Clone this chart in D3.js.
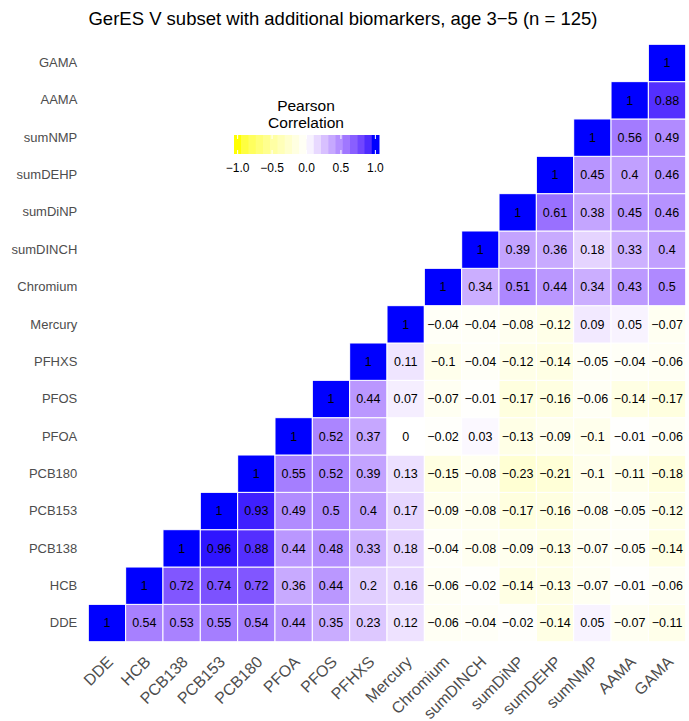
<!DOCTYPE html>
<html>
<head>
<meta charset="utf-8">
<script src="https://cdn.jsdelivr.net/npm/d3@7"></script>
<style>
  body { margin: 0; background: #fff; }
  svg { font-family: "Liberation Sans", Arial, Helvetica, sans-serif; }
</style>
</head>
<body>
<div id="okvir"></div>
<script>
// varijable (redoslijed osi)
const varijable = ["DDE", "HCB", "PCB138", "PCB153", "PCB180", "PFOA", "PFOS", "PFHXS",
  "Mercury", "Chromium", "sumDINCH", "sumDiNP", "sumDEHP", "sumNMP", "AAMA", "GAMA"];

// gornji trokut, svaki red pocinje na dijagonali
const rDDE      = [1, 0.54, 0.53, 0.55, 0.54, 0.44, 0.35, 0.23, 0.12, -0.06, -0.04, -0.02, -0.14, 0.05, -0.07, -0.11];
const rHCB      = [1, 0.72, 0.74, 0.72, 0.36, 0.44, 0.2, 0.16, -0.06, -0.02, -0.14, -0.13, -0.07, -0.01, -0.06];
const rPCB138   = [1, 0.96, 0.88, 0.44, 0.48, 0.33, 0.18, -0.04, -0.08, -0.09, -0.13, -0.07, -0.05, -0.14];
const rPCB153   = [1, 0.93, 0.49, 0.5, 0.4, 0.17, -0.09, -0.08, -0.17, -0.16, -0.08, -0.05, -0.12];
const rPCB180   = [1, 0.55, 0.52, 0.39, 0.13, -0.15, -0.08, -0.23, -0.21, -0.1, -0.11, -0.18];
const rPFOA     = [1, 0.52, 0.37, 0, -0.02, 0.03, -0.13, -0.09, -0.1, -0.01, -0.06];
const rPFOS     = [1, 0.44, 0.07, -0.07, -0.01, -0.17, -0.16, -0.06, -0.14, -0.17];
const rPFHXS    = [1, 0.11, -0.1, -0.04, -0.12, -0.14, -0.05, -0.04, -0.06];
const rMercury  = [1, -0.04, -0.04, -0.08, -0.12, 0.09, 0.05, -0.07];
const rChromium = [1, 0.34, 0.51, 0.44, 0.34, 0.43, 0.5];
const rSumDINCH = [1, 0.39, 0.36, 0.18, 0.33, 0.4];
const rSumDiNP  = [1, 0.61, 0.38, 0.45, 0.46];
const rSumDEHP  = [1, 0.45, 0.4, 0.46];
const rSumNMP   = [1, 0.56, 0.49];
const rAAMA     = [1, 0.88];
const rGAMA     = [1];

const redovi = [rDDE, rHCB, rPCB138, rPCB153, rPCB180, rPFOA, rPFOS, rPFHXS,
  rMercury, rChromium, rSumDINCH, rSumDiNP, rSumDEHP, rSumNMP, rAAMA, rGAMA];

const legendaTicks = [-1, -0.5, 0, 0.5, 1];
const naslov = "GerES V subset with additional biomarkers, age 3\u22125 (n = 125)";

// slazemo podatke za celije
const podatci = [];
redovi.forEach((red, i) => {
  red.forEach((v, k) => {
    podatci.push({ y: varijable[i], x: varijable[i + k], v: v });
  });
});

const dimenzije = {
  sirina: 689,
  visina: 721,
  lijevo: 88.3,
  desno: 685.7,
  gore: 44.3,
  dolje: 641.7
};

const okvir = d3.select("#okvir")
  .append("svg")
    .attr("width", dimenzije.sirina)
    .attr("height", dimenzije.visina);

const xSkala = d3.scaleBand()
  .domain(varijable)
  .range([dimenzije.lijevo, dimenzije.desno]);

const ySkala = d3.scaleBand()
  .domain(varijable.slice().reverse())
  .range([dimenzije.gore, dimenzije.dolje]);

const boja = d3.scaleLinear()
  .domain([-1, 0, 1])
  .range(["#ffff00", "#ffffff", "#0000ff"])
  .interpolate(d3.interpolateLab);

// celije
okvir.append("g")
  .selectAll("rect")
  .data(podatci)
  .join("rect")
    .attr("x", d => xSkala(d.x))
    .attr("y", d => ySkala(d.y))
    .attr("width", xSkala.bandwidth())
    .attr("height", ySkala.bandwidth())
    .attr("fill", d => boja(d.v))
    .attr("stroke", "#ffffff")
    .attr("stroke-width", 1);

const fmt = v => String(v).replace("-", "\u2212");

okvir.append("g")
  .selectAll("text")
  .data(podatci)
  .join("text")
    .attr("x", d => xSkala(d.x) + xSkala.bandwidth() / 2)
    .attr("y", d => ySkala(d.y) + ySkala.bandwidth() / 2)
    .attr("dy", "0.35em")
    .attr("text-anchor", "middle")
    .attr("font-size", "12.5px")
    .attr("fill", "#000")
    .text(d => fmt(d.v));

// osi
const yOs = okvir.append("g")
  .attr("transform", `translate(${dimenzije.lijevo},0)`)
  .call(d3.axisLeft(ySkala).tickSize(0).tickPadding(11));
yOs.select(".domain").remove();
yOs.selectAll("text")
  .attr("font-size", "13px")
  .attr("fill", "#4d4d4d");

const xOs = okvir.append("g")
  .attr("transform", `translate(0,${dimenzije.dolje})`)
  .call(d3.axisBottom(xSkala).tickSize(0));
xOs.select(".domain").remove();
xOs.selectAll("text")
  .attr("font-size", "16px")
  .attr("fill", "#4d4d4d")
  .attr("text-anchor", "end")
  .attr("x", 0)
  .attr("y", 0)
  .attr("dy", "0.72em")
  .attr("transform", "translate(-1,13) rotate(-45)");

// naslov
okvir.append("text")
  .attr("x", 343)
  .attr("y", 25)
  .attr("text-anchor", "middle")
  .attr("font-size", "18.5px")
  .attr("fill", "#000")
  .text(naslov);

// legenda
const leg = { x0: 234, x1: 379, y0: 135, h: 19, nbin: 20 };
const binW = (leg.x1 - leg.x0) / leg.nbin;
const binovi = d3.range(leg.nbin).map(i => -1 + 2 * i / (leg.nbin - 1));
const legSkala = d3.scaleLinear()
  .domain([-1, 1])
  .range([leg.x0 + binW / 2, leg.x1 - binW / 2]);

const legenda = okvir.append("g");

legenda.selectAll("rect")
  .data(binovi)
  .join("rect")
    .attr("x", (d, i) => leg.x0 + i * binW)
    .attr("y", leg.y0)
    .attr("width", binW + 0.5)
    .attr("height", leg.h)
    .attr("fill", d => boja(d));

legenda.selectAll("line.gore")
  .data(legendaTicks)
  .join("line")
    .attr("class", "gore")
    .attr("x1", d => legSkala(d)).attr("x2", d => legSkala(d))
    .attr("y1", leg.y0).attr("y2", leg.y0 + 4)
    .attr("stroke", "#fff").attr("stroke-width", 1);

legenda.selectAll("line.dolje")
  .data(legendaTicks)
  .join("line")
    .attr("class", "dolje")
    .attr("x1", d => legSkala(d)).attr("x2", d => legSkala(d))
    .attr("y1", leg.y0 + leg.h - 4).attr("y2", leg.y0 + leg.h)
    .attr("stroke", "#fff").attr("stroke-width", 1);

legenda.selectAll("text.tick")
  .data(legendaTicks)
  .join("text")
    .attr("class", "tick")
    .attr("x", d => legSkala(d))
    .attr("y", 172)
    .attr("text-anchor", "middle")
    .attr("font-size", "12px")
    .attr("fill", "#000")
    .text(d => d3.format(".1f")(d).replace("-", "\u2212"));

legenda.append("text")
  .attr("x", 306)
  .attr("y", 111)
  .attr("text-anchor", "middle")
  .attr("font-size", "15.5px")
  .text("Pearson");

legenda.append("text")
  .attr("x", 306)
  .attr("y", 128)
  .attr("text-anchor", "middle")
  .attr("font-size", "15.5px")
  .text("Correlation");
</script>
</body>
</html>
